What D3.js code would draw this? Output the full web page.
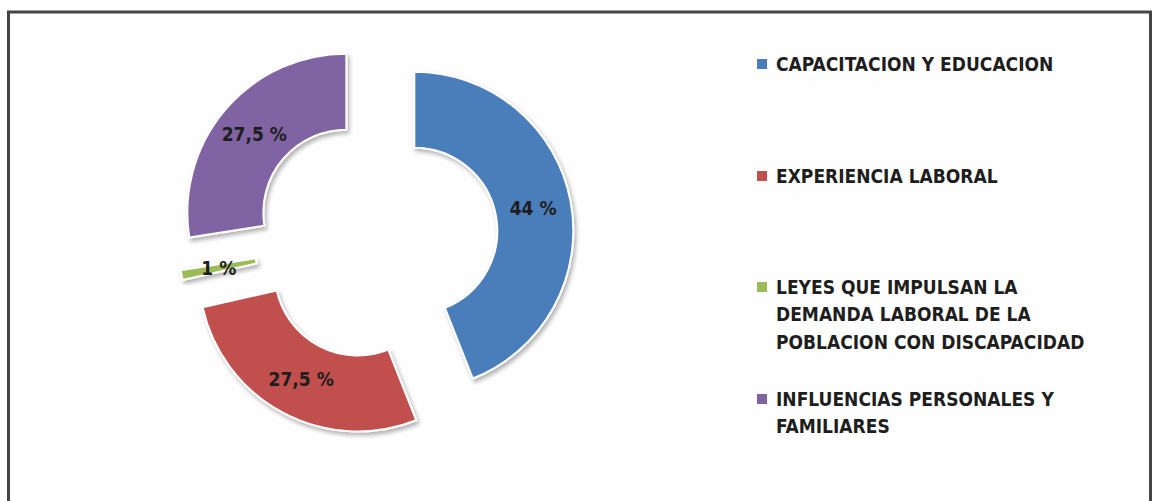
<!DOCTYPE html>
<html>
<head>
<meta charset="utf-8">
<script src="https://cdn.jsdelivr.net/npm/d3@7"></script>
<style>
  body { margin: 0; background: #ffffff; }
  svg text { font-family: "Liberation Sans Narrow", "DejaVu Sans Condensed", sans-serif; fill: #1e1e1e; }
</style>
</head>
<body>
<div id="chart"></div>
<script>
// categories and values (percent)
var categories = ["CAPACITACION Y EDUCACION", "EXPERIENCIA LABORAL",
                  "LEYES QUE IMPULSAN LA DEMANDA LABORAL DE LA POBLACION CON DISCAPACIDAD",
                  "INFLUENCIAS PERSONALES Y FAMILIARES"];
var values = [44, 27.5, 1, 27.5];
var valueLabels = ["44 %", "27,5 %", "1 %", "27,5 %"];
// legend text split on lines as in the picture
var legendLines = [
  ["CAPACITACION Y EDUCACION"],
  ["EXPERIENCIA LABORAL"],
  ["LEYES QUE IMPULSAN LA", "DEMANDA LABORAL DE LA", "POBLACION CON DISCAPACIDAD"],
  ["INFLUENCIAS PERSONALES Y", "FAMILIARES"]
];
var colors = ["#4a7ebb", "#c0504d", "#9bbb59", "#8064a2"];

var width = 1154, height = 501;

var svg = d3.select("#chart").append("svg")
    .attr("width", width)
    .attr("height", height);

// shadow under the slices
var defs = svg.append("defs");
var filt = defs.append("filter").attr("id", "shadow")
    .attr("x", "-20%").attr("y", "-20%").attr("width", "140%").attr("height", "140%");
filt.append("feDropShadow")
    .attr("dx", 2).attr("dy", 3).attr("stdDeviation", 2)
    .attr("flood-color", "#000").attr("flood-opacity", 0.3);

// frame (no bottom edge visible in picture)
svg.append("rect")
    .attr("x", 8.5).attr("y", 12)
    .attr("width", 1142).attr("height", 520)
    .attr("fill", "#fefefe")
    .attr("stroke", "#454545")
    .attr("stroke-width", 3);

var cx = 376, cy = 238;
var outerR = 159, innerR = 83, explode = 39;

var pie = d3.pie().sort(null).value(function(d) { return d; });
var arc = d3.arc().innerRadius(innerR).outerRadius(outerR);
var arcs = pie(values);

var g = svg.append("g").attr("transform", "translate(" + cx + "," + cy + ")");

function offset(d) {
  var a = (d.startAngle + d.endAngle) / 2;
  return [Math.sin(a) * explode, -Math.cos(a) * explode];
}

var slices = g.selectAll("g.slice")
    .data(arcs)
    .enter()
    .append("g")
    .attr("class", "slice")
    .attr("transform", function(d) {
      var o = offset(d);
      return "translate(" + o[0] + "," + o[1] + ")";
    });

slices.append("path")
    .attr("d", arc)
    .attr("fill", function(d, i) { return colors[i]; })
    .attr("stroke", "#ffffff")
    .attr("stroke-width", 2)
    .attr("filter", "url(#shadow)");

slices.append("text")
    .attr("transform", function(d) {
      var c = arc.centroid(d);
      return "translate(" + c[0] + "," + c[1] + ")";
    })
    .attr("text-anchor", "middle")
    .attr("dy", "0.36em")
    .attr("font-size", 19)
    .attr("font-weight", "bold")
    .text(function(d, i) { return valueLabels[i]; });

// legend
var legendY = [64, 176, 287, 399];
var lineH = 27.5;

var legend = svg.selectAll("g.legend")
    .data(legendLines)
    .enter()
    .append("g")
    .attr("class", "legend")
    .attr("transform", function(d, i) { return "translate(757," + legendY[i] + ")"; });

legend.append("rect")
    .attr("x", 0).attr("y", -5)
    .attr("width", 10).attr("height", 10)
    .attr("fill", function(d, i) { return colors[i]; });

legend.each(function(lines) {
  var t = d3.select(this).append("text")
      .attr("x", 19)
      .attr("font-size", 19)
      .attr("font-weight", "bold");
  lines.forEach(function(s, j) {
    t.append("tspan")
      .attr("x", 19)
      .attr("y", j * lineH)
      .attr("dy", "0.36em")
      .text(s);
  });
});
</script>
</body>
</html>
